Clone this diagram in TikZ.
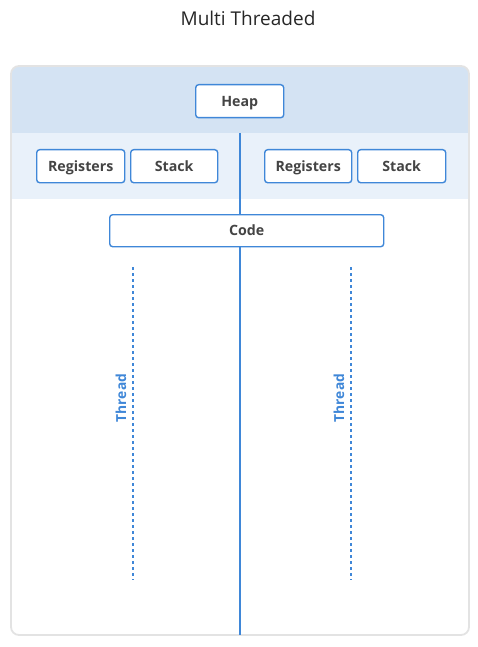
\documentclass[tikz,border=0pt]{standalone}
\usepackage{fontspec}
\setmainfont{Open Sans}
\newcommand\semib{\bfseries}
\definecolor{blu}{HTML}{3F87D8}
\definecolor{heapbg}{HTML}{D4E3F3}
\definecolor{regbg}{HTML}{E9F1FA}
\definecolor{frame}{HTML}{E3E3E3}
\definecolor{txt}{HTML}{444444}
\tikzset{
  box/.style={draw=blu, line width=1.4pt, rounded corners=3pt, fill=white, inner sep=0pt, anchor=north west},
  boxtxt/.style={text=txt, font=\semib\fontsize{14.2}{16}\selectfont, text height=10.2pt, text depth=0pt, inner sep=0pt},
  dots/.style={draw=blu, line width=1.5pt, dash pattern=on 3pt off 3pt},
  lbl/.style={text=blu, font=\semib\fontsize{13.8}{16}\selectfont, rotate=90}
}
\begin{document}
\begin{tikzpicture}[x=1pt,y=-1pt]
\useasboundingbox (0,0) rectangle (478,647);
\node[font=\fontsize{19}{22}\selectfont, text=black!85] (title) at (248,18) {Multi Threaded};
% outer frame
\begin{scope}
\clip[rounded corners=8pt] (11,66) rectangle (469,635);
\fill[heapbg] (11,66) rectangle (469,133);
\fill[regbg] (11,133) rectangle (469,199);
\fill[white] (11,199) rectangle (469,635);
\end{scope}
\draw[frame, line width=1.8pt, rounded corners=8pt] (11,66) rectangle (469,635);
\coordinate (top) at (240,133);
\coordinate (bot) at (240,635);
\draw[blu, line width=1.5pt] (top) -- (bot);
\node[box, minimum width=88pt, minimum height=33pt] (heap) at (195,84) {};
\node[boxtxt] at (heap.center) {Heap};
\node[box, minimum width=88pt, minimum height=33pt] (reg1) at (36,149) {};
\node[boxtxt] at (reg1.center) {Registers};
\node[box, minimum width=87pt, minimum height=33pt] (stk1) at (130,149) {};
\node[boxtxt] at (stk1.center) {Stack};
\node[box, minimum width=87pt, minimum height=33pt] (reg2) at (264,149) {};
\node[boxtxt] at (reg2.center) {Registers};
\node[box, minimum width=88pt, minimum height=33pt] (stk2) at (357,149) {};
\node[boxtxt] at (stk2.center) {Stack};
\node[box, minimum width=274pt, minimum height=32pt] (code) at (109,214) {};
\node[boxtxt] at (code.center) {Code};
\coordinate (t1a) at (133,267); \coordinate (t1b) at (133,580);
\coordinate (t2a) at (351,267); \coordinate (t2b) at (351,580);
\draw[dots] (t1a) -- (t1b);
\draw[dots] (t2a) -- (t2b);
\node[lbl] (th1) at (121,398) {Thread};
\node[lbl] (th2) at (339,398) {Thread};
\end{tikzpicture}
\end{document}
